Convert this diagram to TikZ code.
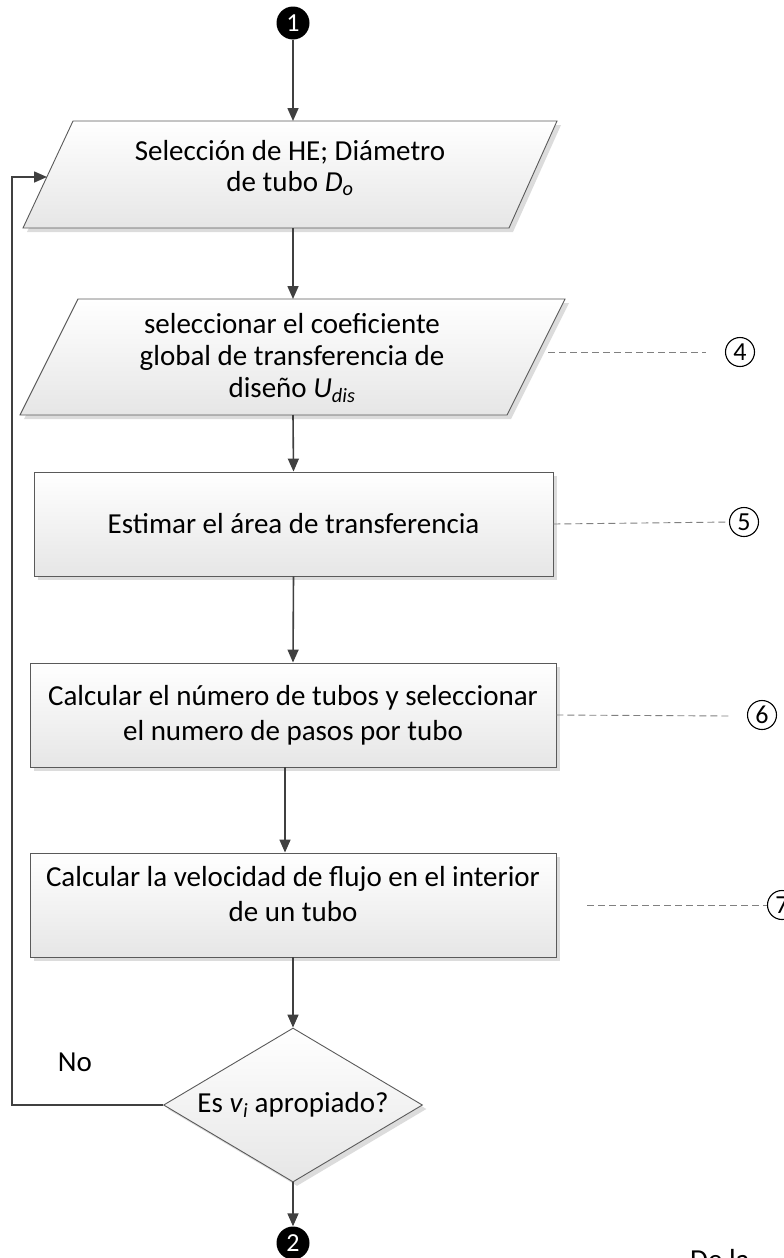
\documentclass[tikz,border=0pt]{standalone}
\usepackage{fontspec}
\setmainfont{Carlito}
\usetikzlibrary{arrows.meta,shapes.geometric,shadows}
\definecolor{linegray}{HTML}{404040}
\definecolor{bordergray}{HTML}{5A5A5A}
\definecolor{dashgray}{HTML}{808080}
\definecolor{boxbottom}{HTML}{E6E6E6}
\definecolor{shadowgray}{HTML}{DCDCDC}
\tikzset{
  conn/.style={draw=linegray, line width=1.6pt, -{Triangle[length=13pt,width=11pt]}},
  shapebox/.style={draw=bordergray, line width=0.9pt, top color=white, bottom color=boxbottom},
  shadowfill/.style={fill=shadowgray, draw=none},
  rectbox/.style={rectangle, shapebox, inner sep=0pt,
    drop shadow={shadow xshift=4pt, shadow yshift=-4pt, fill=shadowgray, opacity=1}},
  diabox/.style={diamond, shapebox, inner sep=0pt,
    drop shadow={shadow xshift=4pt, shadow yshift=-4pt, fill=shadowgray, opacity=1}},
  txt/.style={align=center, inner sep=0pt, font=\fontsize{29}{35}\selectfont},
  dashline/.style={draw=dashgray, line width=0.9pt, dash pattern=on 7pt off 4pt},
  cnum/.style={circle, draw=black, line width=1.1pt, minimum size=29pt, inner sep=0pt,
    font=\fontsize{26}{26}\selectfont},
  term/.style={circle, fill=black, minimum size=33pt, inner sep=0pt, text=white,
    font=\fontsize{26}{26}\selectfont},
}
\begin{document}
\begin{tikzpicture}[x=1pt,y=-1pt]
\useasboundingbox (0,0) rectangle (784,1258);

% terminal 1
\node[term] (c1) at (293,23) {1};

% parallelogram 1
\path[shadowfill] (77,125) -- (561,125) -- (513,232) -- (27,232) -- cycle;
\path[shapebox] (73,121) -- (557,121) -- (509,228) -- (23,228) -- cycle;
\coordinate (p1t) at (293,121);
\coordinate (p1b) at (293,228);
\coordinate (p1l) at (47,177);
\node[txt, font=\fontsize{29}{31}\selectfont] (p1) at (290,168) {Selección de HE; Diámetro\\de tubo \textit{D}\textsubscript{\textit{o}}};

% parallelogram 2
\path[shadowfill] (82,303) -- (569,303) -- (511,419) -- (24,419) -- cycle;
\path[shapebox] (78,299) -- (565,299) -- (507,415) -- (20,415) -- cycle;
\coordinate (p2t) at (293,299);
\coordinate (p2b) at (293,415);
\coordinate (p2r) at (548,352);
\node[txt, font=\fontsize{29}{32}\selectfont] (p2) at (292,358) {seleccionar el coeficiente\\global de transferencia de\\diseño \textit{U}\textsubscript{\textit{dis}}};

% rectangles
\node[rectbox, minimum width=519pt, minimum height=104pt] (r1) at (293.5,524) {};
\node[txt] (t1) at (r1) {Estimar el área de transferencia};
\node[rectbox, minimum width=526pt, minimum height=104pt] (r2) at (293,715) {};
\node[txt] (t2) at (r2) {Calcular el número de tubos y seleccionar\\el numero de pasos por tubo};
\node[rectbox, minimum width=526pt, minimum height=104pt] (r3) at (293,905) {};
\node[txt] (t3) at (293,894) {Calcular la velocidad de flujo en el interior\\de un tubo};

% decision
\node[diabox, minimum width=259pt, minimum height=154pt] (d) at (293,1105) {};
\node[txt] (dt) at (d) {Es \textit{v}\textsubscript{\textit{i}} apropiado?};
\node[txt] (no) at (75,1062) {No};

% terminal 2
\node[term] (c2) at (293,1243) {2};

% connectors
\draw[conn] (c1) -- (p1t);
\draw[conn] (p1b) -- (p2t);
\draw[conn] (p2b) -- (r1.north);
\draw[conn] (r1.south) -- (r2.north);
\draw[conn] ([xshift=-8pt]r2.south) -- ([xshift=-8pt]r3.north);
\draw[conn] (r3.south) -- (d.north);
\draw[conn] (d.south) -- (c2);
\coordinate (loopx) at (12,0);
\draw[conn] (d.west) -- (d.west -| loopx) |- (p1l);

% circled step numbers
\node[cnum] (n4) at (740,352) {4};
\node[cnum] (n5) at (744,522) {5};
\node[cnum] (n6) at (762,715) {6};
\node[cnum] (n7) at (782,905) {7};
\coordinate (e4) at (706,352);
\coordinate (e6) at (729,716);
\draw[dashline] (p2r) -- (e4);
\draw[dashline] (r1.east) -- (n5.west);
\draw[dashline] (r2.east) -- (e6);
\draw[dashline] (587,905) coordinate (s7) -- (n7.west);

% cut-off caption at the bottom edge
\node[txt, anchor=north west] (cap) at (690,1249) {De la};
\end{tikzpicture}
\end{document}
